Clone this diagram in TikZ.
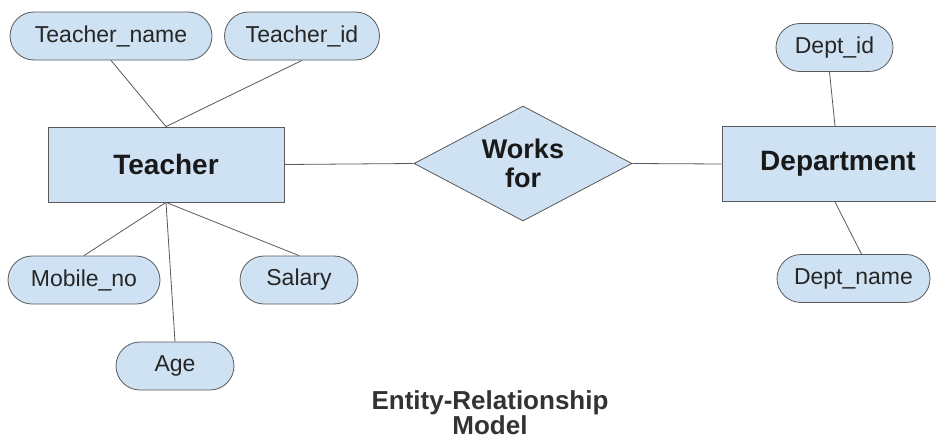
\documentclass[tikz,border=0pt]{standalone}
\usepackage{fontspec}
\setmainfont{Liberation Sans}
\usetikzlibrary{shapes.geometric}
\definecolor{boxfill}{HTML}{CFE2F3}
\definecolor{linec}{HTML}{595959}
\definecolor{titlec}{HTML}{333333}
\tikzset{
  attr/.style={draw=linec, fill=boxfill, rounded corners=24pt, minimum height=48pt, inner sep=0pt, line width=0.8pt, font=\fontsize{23}{27}\selectfont, text=black!85},
  entity/.style={draw=linec, fill=boxfill, minimum width=236pt, minimum height=75pt, inner sep=0pt, line width=0.8pt, font=\bfseries\fontsize{28}{32}\selectfont, text=black!90},
  rel/.style={draw=linec, fill=boxfill, diamond, aspect=1.9, minimum width=218pt, minimum height=115pt, inner sep=0pt, line width=0.8pt, align=center, font=\bfseries\fontsize{27}{29}\selectfont, text=black!90},
  conn/.style={draw=linec, line width=0.8pt}
}
\begin{document}
\begin{tikzpicture}[x=1pt,y=-1pt]
\fill[white] (0,0) rectangle (936,439);
\useasboundingbox (0,0) rectangle (936,439);
\clip (0,0) rectangle (936,439);
\node[attr, minimum width=202pt] (tname) at (111,36) {Teacher\_name};
\node[attr, minimum width=155pt] (tid) at (302,36) {Teacher\_id};
\node[entity] (teacher) at (166,164.5) {Teacher};
\node[attr, minimum width=152pt] (mobile) at (84,280) {Mobile\_no};
\node[attr, minimum width=118pt] (salary) at (299,280) {Salary};
\node[attr, minimum width=118pt] (age) at (175,366) {Age};
\node[rel] (works) at (523,163.5) {Works\\for};
\node[entity, minimum width=232pt] (dept) at (838,164) {Department};
\node[attr, minimum width=117pt] (deptid) at (834.5,47.5) {Dept\_id};
\node[attr, minimum width=153pt] (deptname) at (853.5,278.5) {Dept\_name};
\draw[conn] (tname.south) -- (teacher.north);
\draw[conn] (tid.south) -- (teacher.north);
\draw[conn] (teacher.south) -- (mobile.north);
\draw[conn] (teacher.south) -- (salary.north);
\draw[conn] (teacher.south) -- (age.north);
\draw[conn] (teacher.east) -- (works.west);
\draw[conn] (works.east) -- (dept.west);
\draw[conn] ([xshift=-5pt]deptid.south) -- ([xshift=-3pt]dept.north);
\draw[conn] ([xshift=-3pt]dept.south) -- ([xshift=8pt]deptname.north);
\node[align=center, text=titlec, font=\bfseries\fontsize{26}{24}\selectfont] (title) at (490,413) {Entity-Relationship\\Model};
\end{tikzpicture}
\end{document}
